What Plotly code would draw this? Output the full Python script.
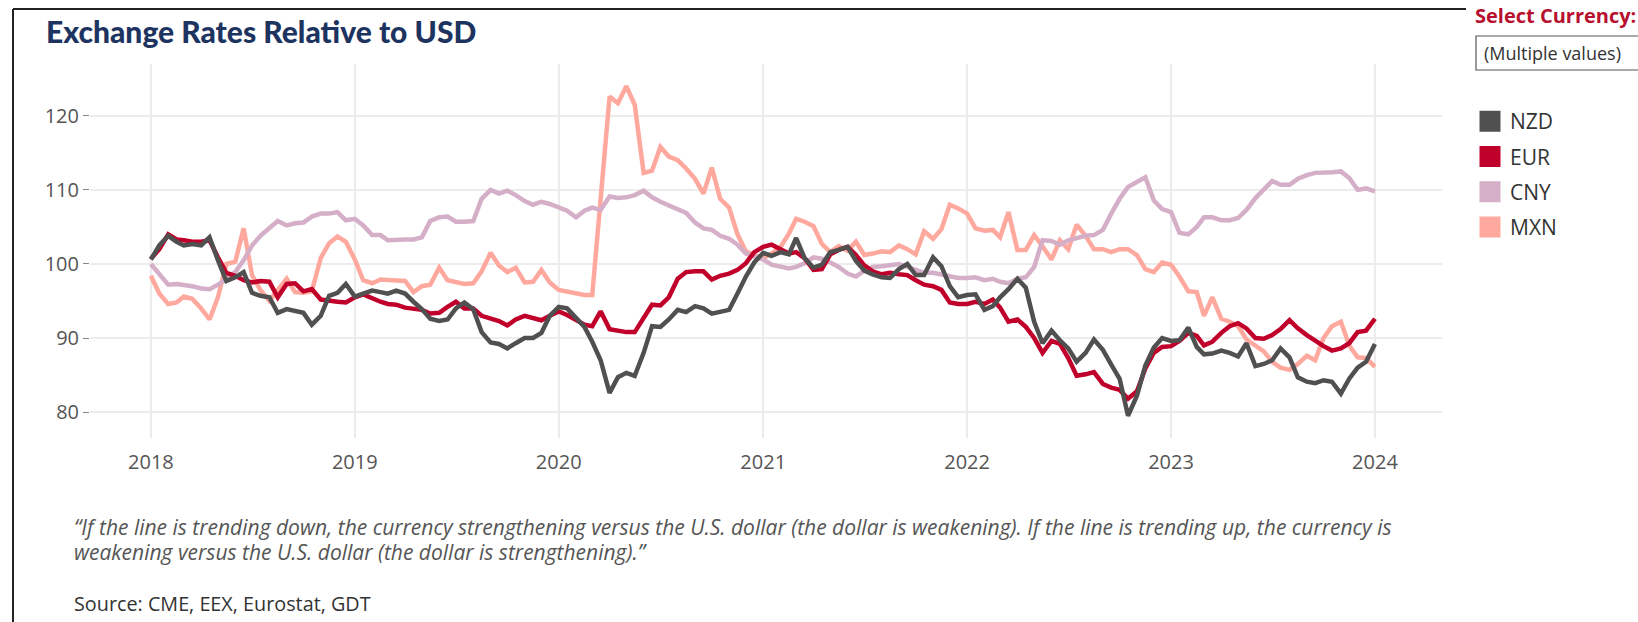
import plotly.graph_objects as go

# Semi-monthly observation dates, Jan 2018 through Jan 2024
dates = [f"{y}-{m:02d}-{d:02d}" for y in range(2018, 2024)
         for m in range(1, 13) for d in (1, 16)] + ["2024-01-01"]

currencies = ["NZD", "EUR", "CNY", "MXN"]

nzd = [
    100.6, 102.5, 103.8, 103.0, 102.5, 102.7, 102.5, 103.6, 100.5, 97.7, 98.2, 98.9,
    96.1, 95.7, 95.5, 93.4, 93.9, 93.6, 93.4, 91.8, 93.0, 95.7, 96.1, 97.3,
    95.6, 96.0, 96.4, 96.2, 96.0, 96.4, 96.0, 94.9, 93.9, 92.6, 92.3, 92.5,
    94.0, 94.8, 93.9, 90.8, 89.4, 89.2, 88.6, 89.3, 90.0, 90.0, 90.7, 93.0,
    94.2, 94.0, 92.8, 91.5, 89.5, 87.0, 82.6, 84.7, 85.3, 84.9, 88.0, 91.6,
    91.5, 92.5, 93.8, 93.5, 94.3, 94.0, 93.3, 93.6, 93.8, 96.0, 98.3, 100.2,
    101.5, 101.1, 101.6, 101.3, 103.5, 100.8, 99.5, 99.9, 101.6, 101.9, 102.3, 100.4,
    99.1, 98.6, 98.2, 98.1, 99.3, 100.0, 98.5, 98.5, 100.9, 99.7, 97.0, 95.5,
    95.8, 95.9, 93.8, 94.3, 95.5, 96.6, 98.0, 96.8, 92.2, 89.3, 91.0, 89.7,
    88.6, 86.8, 88.0, 89.8, 88.4, 86.4, 84.5, 79.5, 82.2, 86.3, 88.7, 90.0,
    89.6, 89.7, 91.4, 88.8, 87.8, 87.9, 88.3, 88.0, 87.5, 89.3, 86.2, 86.5,
    87.0, 88.6, 87.4, 84.7, 84.1, 83.9, 84.3, 84.1, 82.5, 84.5, 86.0, 86.8,
    89.2,
]

eur = [
    100.7, 102.0, 104.0, 103.3, 103.2, 103.0, 103.0, 103.2, 100.9, 98.8, 98.4, 97.8,
    97.5, 97.7, 97.6, 95.5, 97.3, 97.4, 96.3, 96.6, 95.2, 95.0, 94.9, 94.8,
    95.5, 95.9, 95.3, 94.9, 94.6, 94.5, 94.1, 93.9, 93.8, 93.3, 93.4, 94.2,
    94.9, 94.0, 94.0, 93.0, 92.6, 92.3, 91.7, 92.5, 93.0, 92.7, 92.4, 93.0,
    93.6, 93.1, 92.5, 91.8, 91.6, 93.6, 91.2, 91.0, 90.8, 90.8, 92.8, 94.5,
    94.4, 95.5, 98.0, 98.9, 99.0, 99.0, 97.9, 98.4, 98.7, 99.2, 100.1, 101.6,
    102.3, 102.6, 102.0, 101.4, 101.6, 100.8, 99.2, 99.3, 101.3, 101.9, 102.3, 101.2,
    99.8, 99.0, 98.6, 98.8, 98.6, 98.5, 97.8, 97.2, 97.0, 96.5, 94.8, 94.6,
    94.6, 94.9, 94.6, 95.2, 94.1, 92.2, 92.5, 91.5, 90.0, 88.0, 89.6, 89.2,
    87.3, 84.9, 85.1, 85.4, 83.8, 83.3, 83.0, 81.8, 82.8, 85.9, 88.0, 88.8,
    88.9, 89.6, 90.7, 90.3, 89.0, 89.5, 90.7, 91.6, 92.0, 91.3, 90.0, 89.9,
    90.4, 91.2, 92.4, 91.3, 90.4, 89.6, 88.9, 88.3, 88.6, 89.3, 90.8, 91.0,
    92.6,
]

cny = [
    100.0, 98.6, 97.2, 97.3, 97.2, 97.0, 96.7, 96.6, 97.2, 98.1, 98.9, 100.5,
    102.5, 103.8, 104.8, 105.8, 105.2, 105.5, 105.6, 106.4, 106.8, 106.8, 107.0, 105.9,
    106.1, 105.2, 103.9, 103.9, 103.2, 103.3, 103.3, 103.3, 103.6, 105.8, 106.3, 106.4,
    105.7, 105.7, 105.8, 108.8, 110.0, 109.5, 109.9, 109.3, 108.5, 108.0, 108.4, 108.1,
    107.6, 107.2, 106.3, 107.2, 107.6, 107.3, 109.1, 108.9, 109.0, 109.3, 109.9, 109.0,
    108.4, 107.9, 107.5, 106.9, 105.6, 104.8, 104.6, 103.8, 103.4, 102.6, 101.4, 101.0,
    100.6, 99.9, 99.6, 99.4, 99.6, 100.1, 100.9, 100.7, 100.2, 99.6, 98.7, 98.3,
    99.1, 99.6, 99.7, 99.8, 100.0, 99.6, 99.2, 98.8, 98.8, 98.6, 98.3, 98.1,
    98.1, 98.2, 97.8, 98.0, 97.6, 97.4, 98.0, 98.2, 99.6, 103.2, 103.1, 102.6,
    103.2, 103.5, 103.8, 103.9, 104.6, 106.8, 108.8, 110.4, 111.0, 111.7, 108.6, 107.4,
    107.0, 104.2, 104.0, 105.0, 106.3, 106.3, 105.9, 105.9, 106.2, 107.3, 108.9, 110.0,
    111.2, 110.7, 110.7, 111.5, 112.0, 112.3, 112.3, 112.4, 112.5, 111.6, 110.0, 110.2,
    109.8,
]

mxn = [
    98.4, 96.0, 94.6, 94.8, 95.6, 95.3, 94.0, 92.5, 95.5, 100.0, 100.3, 104.8,
    98.5, 96.5, 95.0, 96.5, 98.0, 96.2, 96.1, 96.3, 100.8, 102.8, 103.7, 103.0,
    100.6, 97.8, 97.4, 97.9, 97.8, 97.8, 97.7, 96.2, 97.0, 97.2, 99.5, 97.8,
    97.6, 97.3, 97.4, 99.0, 101.5, 99.8, 98.9, 99.5, 97.5, 97.6, 99.2, 97.5,
    96.5, 96.3, 96.0, 95.8, 95.8, 108.0, 122.6, 121.7, 124.0, 121.5, 112.3, 112.6,
    115.8, 114.5, 114.0, 112.9, 111.5, 109.5, 113.0, 108.8, 107.6, 104.0, 101.7, 101.2,
    100.8, 101.4, 102.3, 104.1, 106.1, 105.7, 105.1, 102.7, 101.6, 102.4, 101.8, 103.0,
    101.2, 101.4, 101.7, 101.6, 102.5, 102.0, 101.3, 104.4, 103.4, 104.7, 108.0, 107.5,
    106.8, 104.8, 104.5, 104.6, 103.6, 107.0, 101.9, 101.9, 103.9, 102.4, 100.6, 103.2,
    102.0, 105.3, 103.8, 102.0, 102.0, 101.6, 102.0, 102.0, 101.2, 99.3, 98.9, 100.2,
    99.9, 98.3, 96.3, 96.2, 93.0, 95.5, 92.6, 92.2, 91.6, 89.8, 88.9, 88.2,
    86.8, 86.0, 85.7, 86.5, 87.6, 87.0, 90.0, 91.6, 92.2, 89.0, 87.4, 87.3,
    86.1,
]

colors = {"NZD": "#505050", "EUR": "#c0002b", "CNY": "#d5aec8", "MXN": "#ffa89e"}
series = {"NZD": nzd, "EUR": eur, "CNY": cny, "MXN": mxn}

y_ticks = [80, 90, 100, 110, 120]
x_ticks = [f"{y}-01-01" for y in range(2018, 2025)]

quote_lines = [
    "\u201cIf the line is trending down, the currency strengthening versus the U.S. dollar "
    "(the dollar is weakening). If the line is trending up, the currency is",
    "weakening versus the U.S. dollar (the dollar is strengthening).\u201d",
]

W, H = 1638, 622
L, R, T, B = 90, 196, 64, 184
PW, PH = W - L - R, H - T - B


def px(x):
    return (x - L) / PW


def py(y):
    return (H - B - y) / PH


TITLE_FONT = "Lato, 'Open Sans', sans-serif"
BODY_FONT = "'Open Sans', Lato, sans-serif"

fig = go.Figure()

# Legend swatches (square markers)
for name in currencies:
    c = colors[name]
    fig.add_trace(go.Scatter(
        x=[None], y=[None], mode="markers", name=name,
        legendgroup=name,
        marker=dict(symbol="square", size=16, color=c, line=dict(color=c, width=5)),
        showlegend=True, hoverinfo="skip",
    ))

# Lines, drawn so NZD ends up on top
for name in ["MXN", "CNY", "EUR", "NZD"]:
    fig.add_trace(go.Scatter(
        x=dates, y=series[name], mode="lines", name=name,
        line=dict(color=colors[name], width=4.5),
        showlegend=False,
    ))

fig.update_layout(
    width=W, height=H,
    margin=dict(l=L, r=R, t=T, b=B, autoexpand=False),
    paper_bgcolor="white", plot_bgcolor="white",
    font=dict(family=BODY_FONT, color="#555555"),
    showlegend=True,
    legend=dict(
        x=px(1470), y=py(101), xanchor="left", yanchor="top",
        xref="paper", yref="paper",
        font=dict(size=21, color="#333333", family=BODY_FONT),
        traceorder="grouped", tracegroupgap=5,
        itemsizing="trace", bgcolor="rgba(0,0,0,0)",
    ),
    xaxis=dict(
        type="date", range=["2017-09-14", "2024-04-30"],
        tickvals=x_ticks, tickformat="%Y",
        showgrid=True, gridcolor="#ececec", gridwidth=1.5,
        zeroline=False, showline=False, ticks="",
        tickfont=dict(size=20, color="#555555", family=BODY_FONT),
        ticklabelstandoff=10,
    ),
    yaxis=dict(
        range=[76.5, 127], tickvals=y_ticks,
        showgrid=True, gridcolor="#ececec", gridwidth=1.5,
        zeroline=False, showline=False,
        ticks="outside", ticklen=6, tickcolor="#888888", tickwidth=1,
        tickfont=dict(size=20, color="#555555", family=BODY_FONT),
    ),
)

annotations = [
    dict(text="Exchange Rates Relative to USD", x=px(44), y=py(31),
         xanchor="left", yanchor="middle",
         font=dict(size=30, color="#1d3461", family=TITLE_FONT, weight=900)),
    dict(text="<b>Select Currency:</b>", x=px(1473), y=py(16),
         xanchor="left", yanchor="middle",
         font=dict(size=20, color="#b8102f", family=BODY_FONT)),
    dict(text="(Multiple values)", x=px(1482), y=py(53),
         xanchor="left", yanchor="middle",
         font=dict(size=18, color="#333333", family=BODY_FONT)),
    dict(text=f"<i>{quote_lines[0]}</i>", x=px(72), y=py(527),
         xanchor="left", yanchor="middle",
         font=dict(size=21, color="#555555", family=BODY_FONT)),
    dict(text=f"<i>{quote_lines[1]}</i>", x=px(72), y=py(552),
         xanchor="left", yanchor="middle",
         font=dict(size=21, color="#555555", family=BODY_FONT)),
    dict(text="Source: CME, EEX, Eurostat, GDT", x=px(72), y=py(603),
         xanchor="left", yanchor="middle",
         font=dict(size=19.8, color="#333333", family=BODY_FONT)),
]
for a in annotations:
    a.update(xref="paper", yref="paper", showarrow=False)
fig.update_layout(annotations=annotations)

shapes = [
    # dropdown box
    dict(type="rect", x0=px(1476), x1=px(1660), y0=py(36), y1=py(70),
         line=dict(color="#555555", width=1.2), fillcolor="white", layer="below"),
    # dashboard frame
    dict(type="line", x0=px(13), x1=px(13), y0=py(9), y1=py(640),
         line=dict(color="#222222", width=2), layer="above"),
    dict(type="line", x0=px(13), x1=px(1466), y0=py(9), y1=py(9),
         line=dict(color="#222222", width=2), layer="above"),
]
for s in shapes:
    s.update(xref="paper", yref="paper")
fig.update_layout(shapes=shapes)

fig.write_html("out.html")
